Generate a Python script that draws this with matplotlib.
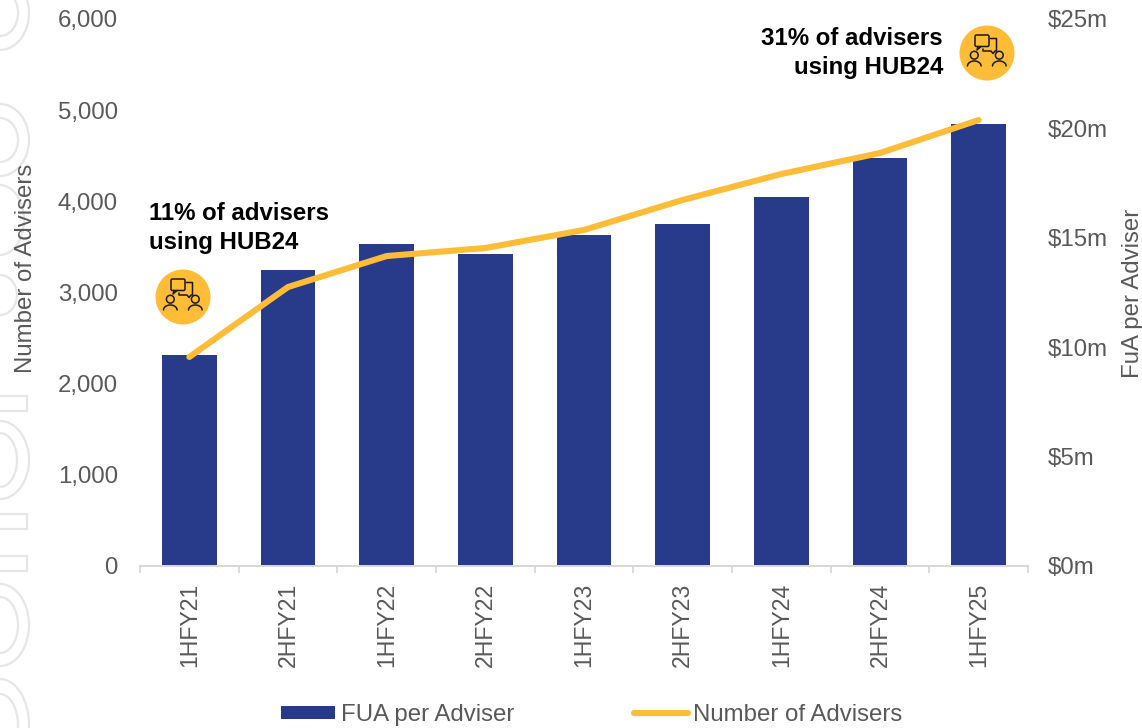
# -*- coding: utf-8 -*-
"""
Advisers and FUA per adviser, half-yearly, bars on the right axis, line on the left.
"""
import matplotlib
matplotlib.use("Agg")
import matplotlib.pyplot as plt
import numpy as np
from matplotlib.patches import Circle, Ellipse, FancyBboxPatch, Rectangle

plt.rcParams["font.family"] = ["Liberation Sans", "DejaVu Sans"]

###############################################################################
# Data
###############################################################################
periods = ["1HFY21", "2HFY21", "1HFY22", "2HFY22", "1HFY23",
           "2HFY23", "1HFY24", "2HFY24", "1HFY25"]
fua_per_adviser = [9.64, 13.53, 14.72, 14.26, 15.13, 15.63, 16.86, 18.65, 20.2]
num_advisers = [2293, 3060, 3400, 3488, 3686, 4015, 4300, 4530, 4892]
left_ticks = [0, 1000, 2000, 3000, 4000, 5000, 6000]
right_ticks = [0, 5, 10, 15, 20, 25]

navy = "#283A8A"
amber = "#FFBC37"
grey_text = "#595959"
axis_grey = "#D9D9D9"
mark_grey = "#E6E6E6"
FS = 17.3

W, H = 1142, 728
fig = plt.figure(figsize=(W / 100, H / 100), dpi=100, facecolor="white")


def px_rect(x0, y_top, x1, y_bot):
    return [x0 / W, 1 - y_bot / H, (x1 - x0) / W, (y_bot - y_top) / H]


###############################################################################
# Background layer in pixel coordinates: watermark, call-outs
###############################################################################
bg = fig.add_axes([0, 0, 1, 1], zorder=-1)
bg.set_xlim(0, W)
bg.set_ylim(H, 0)
bg.axis("off")

# watermark letters cut off by the left edge
for cy, a, b in [(13, 29, 37), (13, 18, 23), (140, 29, 36), (140, 18, 22),
                 (220, 24, 35), (295, 17, 20), (460, 29, 39), (460, 17, 27),
                 (625, 29, 41), (625, 18, 28), (725, 29, 46), (725, 18, 31)]:
    bg.add_patch(Ellipse((0, cy), 2 * a, 2 * b, fill=False, ec=mark_grey, lw=1.6))
for y0, y1 in [(396, 411), (514, 529), (556, 571)]:
    bg.add_patch(Rectangle((-5, y0), 32, y1 - y0, fill=False, ec=mark_grey, lw=1.6))


def adviser_icon(cx, cy):
    bg.add_patch(Circle((cx, cy), 27.5, fc=amber, ec="none"))
    ink = dict(color="#1A1A1A", lw=1.1, solid_capstyle="round")
    # speech bubbles
    bg.add_patch(FancyBboxPatch((cx - 12, cy - 18), 14, 11.5,
                                boxstyle="round,pad=0,rounding_size=1.5",
                                fill=False, ec="#1A1A1A", lw=1.1))
    bg.plot([cx - 9, cx - 10, cx - 6], [cy - 6.5, cy - 3, cy - 6.5], **ink)
    bg.plot([cx + 3.5, cx + 9.5, cx + 9.5, cx + 8, cx + 6, cx + 4, cx - 4, cx - 4],
            [cy - 14.5, cy - 14.5, cy - 2, cy - 2, cy + 0.5, cy - 2, cy - 2, cy - 4], **ink)
    # two people
    t = np.linspace(np.pi, 2 * np.pi, 20)
    for dx in [-12.7, 12.3]:
        bg.add_patch(Circle((cx + dx, cy + 2.2), 3.9, fill=False, ec="#1A1A1A", lw=1.1))
        bg.plot(cx + dx + 6.8 * np.cos(t), cy + 13 + 5 * np.sin(t), **ink)


adviser_icon(183, 297)
adviser_icon(987, 53)

bg.text(149, 228, "11% of advisers\nusing HUB24", fontsize=FS, fontweight="bold",
        color="black", ha="left", va="center", linespacing=1.3)
bg.text(943, 53, "31% of advisers\nusing HUB24", fontsize=FS, fontweight="bold",
        color="black", ha="right", va="center", multialignment="right", linespacing=1.3)

###############################################################################
# Main axes
###############################################################################
ax = fig.add_axes(px_rect(140, 19, 1028, 566), zorder=2)
ax2 = ax.twinx()
ax2.set_zorder(1)
ax.patch.set_visible(False)
ax2.patch.set_visible(False)

x = np.arange(len(periods))
bars = ax2.bar(x, fua_per_adviser, width=0.557, color=navy, label="FUA per Adviser")
line, = ax.plot(x, num_advisers, color=amber, lw=4.4, solid_capstyle="round",
                solid_joinstyle="round", label="Number of Advisers")

ax.set_xlim(-0.5, len(periods) - 0.5)
ax.set_ylim(0, 6000)
ax2.set_ylim(0, 25)

ax.set_yticks(left_ticks)
ax.set_yticklabels([f"{v:,}" for v in left_ticks])
ax2.set_yticks(right_ticks)
ax2.set_yticklabels([f"${v}m" for v in right_ticks])

# ticks sit between the categories, labels on the category centres
ax.set_xticks(np.arange(len(periods) + 1) - 0.5)
ax.set_xticklabels([])
ax.set_xticks(x, labels=periods, minor=True, rotation=90, fontsize=16.6, color=grey_text)
ax.tick_params(axis="x", which="major", length=5, color=axis_grey, width=1.3)
ax.tick_params(axis="x", which="minor", length=0, pad=12)

ax.tick_params(axis="y", length=0, pad=16, labelsize=FS, labelcolor=grey_text)
ax2.tick_params(axis="y", length=0, pad=14, labelsize=FS, labelcolor=grey_text)

for a in (ax, ax2):
    for side in ["top", "left", "right"]:
        a.spines[side].set_visible(False)
    a.spines["bottom"].set_color(axis_grey)
    a.spines["bottom"].set_linewidth(1.3)

fig.text(26 / W, 1 - 268 / H, "Number of Advisers", rotation=90, ha="center", va="center",
         fontsize=FS, color=grey_text)
fig.text(1133 / W, 1 - 293 / H, "FuA per Adviser", rotation=90, ha="center", va="center",
         fontsize=FS, color=grey_text)

fig.legend(handles=[bars, line], loc="center", bbox_to_anchor=(592 / W, 1 - 715 / H), ncol=2,
           frameon=False, fontsize=FS, labelcolor=grey_text, borderpad=0, borderaxespad=0,
           handlelength=2.25, handletextpad=0.22, columnspacing=5.0, handleheight=0.5)

fig.savefig("out.png", dpi=100)
